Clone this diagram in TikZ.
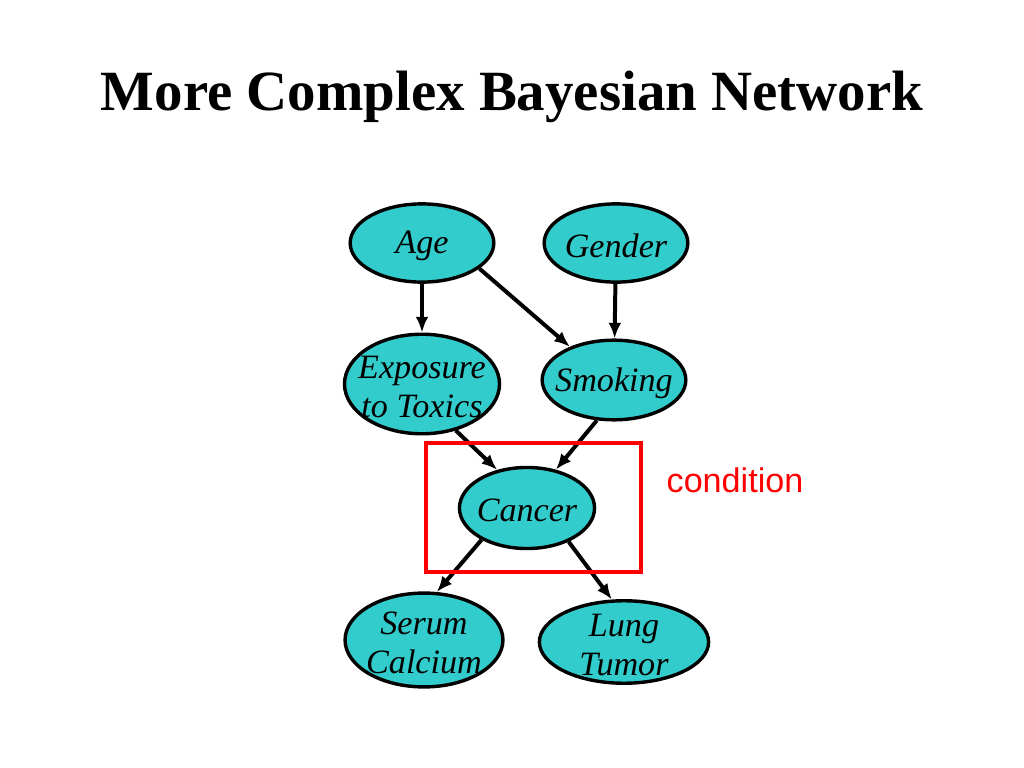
\documentclass[tikz,border=0pt]{standalone}
\usepackage{fontspec}
\setmainfont{Liberation Serif}
\newfontfamily\arialfont{Liberation Sans}
\usepackage{xcolor}
\usetikzlibrary{shapes.geometric, arrows.meta}
\definecolor{nodecyan}{RGB}{51,204,204}
\definecolor{condred}{RGB}{255,0,0}

\begin{document}
\begin{tikzpicture}[x=0.703125pt, y=-0.703125pt,
    var/.style={draw, ellipse, fill=nodecyan, line width=2.4pt, inner sep=0pt},
    arc/.style={line width=2.8pt, -{Latex[length=11pt, width=9pt]}},
    every label/.style={font=\fontsize{24}{27.6}\itshape\selectfont, align=center, yshift=-2pt}]
      \useasboundingbox (0,0) rectangle (1024,768);

      \node (Title) at (512,97) {\fontsize{40}{46}\bfseries\selectfont More Complex Bayesian Network};

      \node (Age) [var, minimum width=101pt, minimum height=55pt, label=center:Age] at (422,243) {};
      \node (Gender) [var, minimum width=101pt, minimum height=55pt, label=center:Gender] at (616,243) {};
      \node (Exposure) [var, minimum width=109pt, minimum height=70pt, label={center:Exposure\\to Toxics}] at (422,384) {};
      \node (Smoking) [var, minimum width=101pt, minimum height=56pt, label=center:Smoking] at (614,380) {};
      \node (Cancer) [var, minimum width=95pt, minimum height=57pt, label=center:Cancer] at (527,508) {};
      \node (Serum) [var, minimum width=111pt, minimum height=66pt, label={center:Serum\\Calcium}] at (424,640) {};
      \node (Lung) [var, minimum width=119pt, minimum height=58pt, label={center:Lung\\Tumor}] at (624,642) {};

      \draw [arc] (Age) -- (Exposure);
      \draw [arc] (Age.-24) -- (Smoking.143);
      \draw [arc] (Gender) -- (Smoking);
      \draw [arc] (Exposure.-54) -- (Cancer.128);
      \draw [arc] (Smoking.-113) -- (Cancer.53);
      \draw [arc] (Cancer.-145) -- (Serum.75);
      \draw [arc] (Cancer.-39) -- (Lung.106);

      \draw [condred, line width=2.6pt] (426,443) rectangle (641,572);
      \node (Condition) [text=condred] at (735,480) {\arialfont\fontsize{24}{28}\selectfont condition};
    \end{tikzpicture}
\end{document}
